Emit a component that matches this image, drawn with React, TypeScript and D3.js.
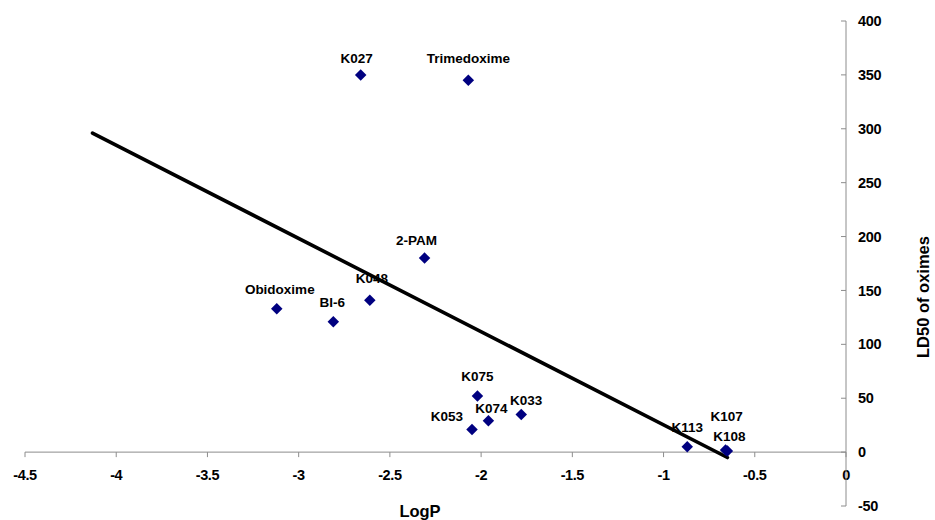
import React from "react";
import * as d3 from "d3";

// Oxime data: lipophilicity (LogP) vs. LD50
const names = ["K027", "Trimedoxime", "2-PAM", "Obidoxime", "BI-6", "K048", "K075", "K053", "K074", "K033", "K113", "K107", "K108"];
const logP = [-2.66, -2.07, -2.31, -3.12, -2.81, -2.61, -2.02, -2.05, -1.96, -1.78, -0.87, -0.66, -0.65];
const ld50 = [350, 345, 180, 133, 121, 141, 52, 21, 29, 35, 5, 2, 1];

// Linear trend line end points
const trendX = [-4.13, -0.65];
const trendY = [296, -5];

const xTicks = [-4.5, -4, -3.5, -3, -2.5, -2, -1.5, -1, -0.5, 0];
const yTicks = [-50, 0, 50, 100, 150, 200, 250, 300, 350, 400];

// Label placement relative to each marker (px)
const labelDx = [-4, 0, -8, 3, -1, 2, 0, -25, 3, 5, 0, 1, 2];
const labelDy = [-17, -22, -18, -19, -19, -22, -20, -13, -13, -14, -19, -34, -15];

const W = 935;
const H = 520;
const font = "'Liberation Sans', Arial, sans-serif";

export default function App() {
  const x = d3.scaleLinear().domain([-4.5, 0]).range([25, 846]);
  const y = d3.scaleLinear().domain([-50, 400]).range([506, 21]);
  const axisColor = "#8c8c8c";
  const line = d3
    .line<number>()
    .x((_, i) => x(trendX[i]))
    .y((_, i) => y(trendY[i]));
  // square rotated 45° gives an even diamond marker
  const marker = d3.symbol(d3.symbolSquare, 66)();
  const yAxisX = x(0);
  const xAxisY = y(0);

  return (
    <div style={{ position: "absolute", left: 0, top: 0 }}>
      <svg width={W} height={H} style={{ display: "block", background: "#fff" }} fontFamily={font}>
        {/* x axis */}
        <line x1={x(-4.5)} x2={x(0)} y1={xAxisY} y2={xAxisY} stroke={axisColor} strokeWidth={1} />
        {xTicks.map((t) => (
          <g key={"xt" + t}>
            <line x1={x(t)} x2={x(t)} y1={xAxisY} y2={xAxisY + 5} stroke={axisColor} />
            <text x={x(t)} y={xAxisY + 28} textAnchor="middle" fontSize={14.5} fontWeight="bold" fill="#000" letterSpacing={-0.4}>
              {String(t)}
            </text>
          </g>
        ))}
        {/* y axis */}
        <line x1={yAxisX} x2={yAxisX} y1={y(-50)} y2={y(400)} stroke={axisColor} strokeWidth={1} />
        {yTicks.map((t) => (
          <g key={"yt" + t}>
            <line x1={yAxisX - 5} x2={yAxisX} y1={y(t)} y2={y(t)} stroke={axisColor} />
            <text x={yAxisX + 12} y={y(t)} dy="0.35em" fontSize={14.5} fontWeight="bold" fill="#000" letterSpacing={-0.3}>
              {String(t)}
            </text>
          </g>
        ))}
        {/* axis titles */}
        <text x={420} y={517} textAnchor="middle" fontSize={16.5} fontWeight="bold" fill="#000">
          LogP
        </text>
        <text
          transform={`translate(929,297) rotate(-90)`}
          textAnchor="middle"
          fontSize={16.5}
          fontWeight="bold"
          fill="#000"
        >
          LD50 of oximes
        </text>
        {/* trend line */}
        <path d={line(trendX) || ""} stroke="#000" strokeWidth={3.6} fill="none" strokeLinecap="round" />
        {/* points */}
        {names.map((n, i) => (
          <path
            key={"p" + n}
            d={marker || ""}
            transform={`translate(${x(logP[i])},${y(ld50[i])}) rotate(45)`}
            fill="#000080"
          />
        ))}
        {/* labels */}
        {names.map((n, i) => (
          <text
            key={"l" + n}
            x={x(logP[i]) + labelDx[i]}
            y={y(ld50[i]) + labelDy[i]}
            dy="0.35em"
            textAnchor="middle"
            fontSize={13.5}
            fontWeight="bold"
            fill="#000"
          >
            {n}
          </text>
        ))}
      </svg>
    </div>
  );
}
